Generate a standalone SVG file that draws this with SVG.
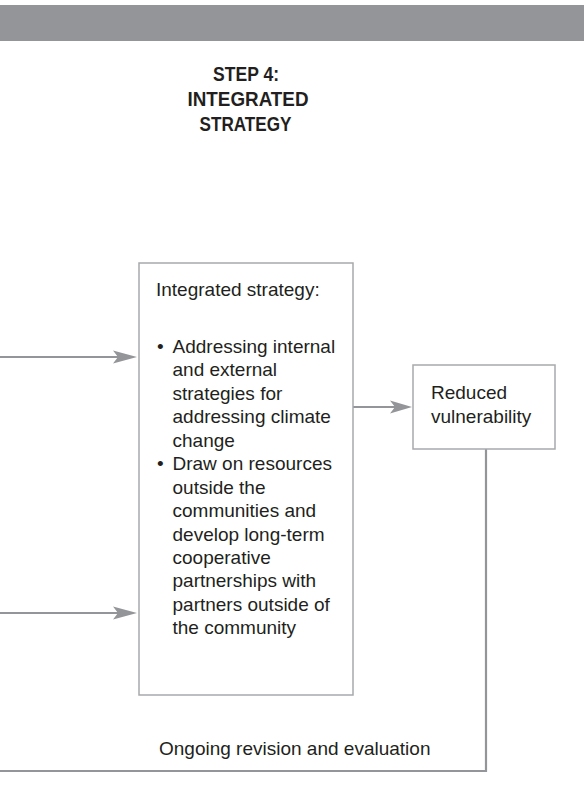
<svg xmlns="http://www.w3.org/2000/svg" width="584" height="796" viewBox="0 0 584 796">
<defs>
<style>
.t{font-family:"Liberation Sans",Arial,sans-serif;font-size:19px;fill:#231f20}
.h{font-family:"Liberation Sans",Arial,sans-serif;font-size:20px;font-weight:bold;fill:#231f20;text-anchor:middle}
.box{fill:#fff;stroke:#a7a9ac;stroke-width:1.5}
.ln{fill:none;stroke:#939598;stroke-width:2.2}
.ah{fill:#939598}
</style>
</defs>
<rect x="0" y="5" width="584" height="36" fill="#939598"/>
<g id="title">
<text class="h" x="246" y="80.5" textLength="66" lengthAdjust="spacingAndGlyphs">STEP 4:</text>
<text class="h" x="248" y="105.5" textLength="121" lengthAdjust="spacingAndGlyphs">INTEGRATED</text>
<text class="h" x="245.5" y="130.5" textLength="92" lengthAdjust="spacingAndGlyphs">STRATEGY</text>
</g>
<g id="connectors">
<line class="ln" x1="0" y1="357" x2="118" y2="357"/>
<polygon class="ah" points="137,357 113,350.5 118,357 113,363.5"/>
<line class="ln" x1="0" y1="613" x2="118" y2="613"/>
<polygon class="ah" points="137,613 113,606.5 118,613 113,619.5"/>
<line class="ln" x1="353" y1="407" x2="395" y2="407"/>
<polygon class="ah" points="412,407 390,400.5 395,407 390,413.5"/>
<polyline class="ln" points="486,449 486,771 0,771"/>
<text class="t" x="159" y="755">Ongoing revision and evaluation</text>
</g>
<g id="integrated-strategy">
<rect class="box" x="139" y="263" width="214" height="432"/>
<text class="t" x="156" y="296">Integrated strategy:</text>
<text class="t" x="157" y="352.5">•</text>
<text class="t" x="172.5" y="352.5">Addressing internal</text>
<text class="t" x="172.5" y="376">and external</text>
<text class="t" x="172.5" y="399.5">strategies for</text>
<text class="t" x="172.5" y="423">addressing climate</text>
<text class="t" x="172.5" y="446.5">change</text>
<text class="t" x="157" y="470">•</text>
<text class="t" x="172.5" y="470">Draw on resources</text>
<text class="t" x="172.5" y="493.5">outside the</text>
<text class="t" x="172.5" y="517">communities and</text>
<text class="t" x="172.5" y="540.5">develop long-term</text>
<text class="t" x="172.5" y="564">cooperative</text>
<text class="t" x="172.5" y="587">partnerships with</text>
<text class="t" x="172.5" y="610.5">partners outside of</text>
<text class="t" x="172.5" y="634">the community</text>
</g>
<g id="reduced-vulnerability">
<rect class="box" x="413" y="365" width="142" height="84"/>
<text class="t" x="431" y="399">Reduced</text>
<text class="t" x="431" y="423">vulnerability</text>
</g>
</svg>
